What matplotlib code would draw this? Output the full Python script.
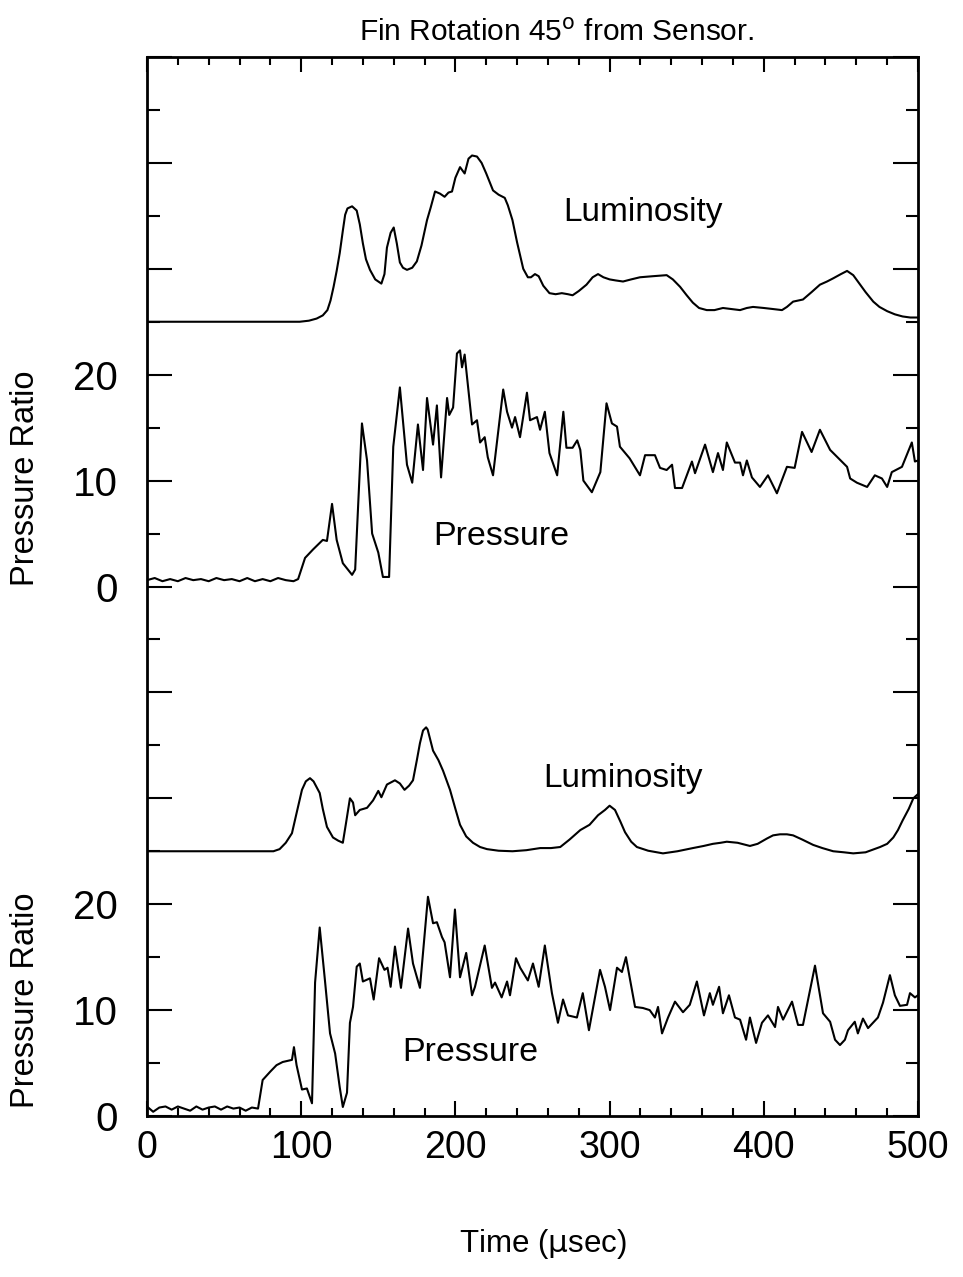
import matplotlib
matplotlib.use("Agg")
import matplotlib.pyplot as plt
import matplotlib.transforms as mtransforms
import numpy as np

plt.rcParams['font.family'] = ['Liberation Sans', 'DejaVu Sans']

# Upper record: luminosity (arbitrary units above its baseline) and pressure ratio
lum_top_t = [0, 99, 105, 110, 114, 117, 119, 121, 123, 125, 127, 128.5, 130, 133, 136, 138,
             140, 142, 144.6, 148, 152, 154, 155.6, 158, 160, 162, 164, 166, 168.6, 172, 175,
             178, 181.6, 184, 186.8, 190, 193, 195.5, 197.8, 200, 203, 206, 208.5, 210.8, 214,
             217, 220, 224.4, 228, 232, 234, 237, 240, 244, 247, 249, 251.6, 254, 257, 261,
             265, 269, 273, 276, 280, 285, 289, 292.5, 296, 300, 304, 308.7, 314, 319.7, 328,
             337, 341, 345.7, 350, 354, 358, 363, 368, 373.5, 379, 384.6, 389, 393, 400, 406,
             411.8, 415, 419, 425.4, 431, 436.4, 441, 445, 450, 454, 458, 461, 466, 471, 475,
             480, 485, 490, 495, 500]
lum_top_v = [0.0, 0.0, 0.1, 0.3, 0.6, 1.1, 2.0, 3.3, 4.8, 6.5, 8.6, 10.1, 10.7, 10.9, 10.5,
             9.2, 7.4, 5.9, 4.9, 4.0, 3.6, 4.5, 7.0, 8.4, 8.9, 7.4, 5.6, 5.1, 4.9, 5.1, 5.7,
             7.2, 9.6, 10.8, 12.3, 12.1, 11.8, 12.2, 12.3, 13.6, 14.6, 14.0, 15.4, 15.7, 15.6,
             15.0, 14.0, 12.4, 12.0, 11.7, 11.0, 9.6, 7.5, 5.0, 4.2, 4.2, 4.5, 4.3, 3.4, 2.7,
             2.6, 2.7, 2.6, 2.5, 2.9, 3.5, 4.2, 4.5, 4.2, 4.0, 3.9, 3.8, 4.0, 4.2, 4.3,
             4.4, 4.0, 3.3, 2.5, 1.8, 1.3, 1.1, 1.1, 1.3, 1.2, 1.1, 1.3, 1.4, 1.3, 1.2,
             1.1, 1.4, 1.9, 2.1, 2.8, 3.5, 3.8, 4.1, 4.5, 4.8, 4.4, 3.8, 2.8, 1.9, 1.4,
             1.0, 0.7, 0.5, 0.4, 0.4]

p_top_t = [0, 5, 10, 15, 20, 25, 30, 35, 40, 45, 50, 55, 60, 65, 70, 75, 80, 85, 90, 95,
           98, 102.5, 107.7, 114, 116.7, 120, 123, 127, 133, 135, 139.4, 142.7, 146, 150, 153,
           157, 159.7, 164, 168.6, 172, 175.7, 179, 181.6, 185.5, 188, 190.7, 194.6, 196,
           198.5, 201, 203, 204.3, 206, 210.8, 214, 216, 219, 221, 224.4, 231, 233.5, 236.7,
           238.7, 241.9, 246.4, 248.4, 252.9, 254.9, 258, 261, 266, 270, 272, 276, 279, 281,
           283, 288.5, 294, 298, 301.5, 304.8, 306.7, 313, 319.7, 323, 329.4, 332.7, 337,
           340.5, 342.4, 347, 353.4, 355.4, 361.9, 367, 370.3, 373.5, 376, 381.3, 384.6,
           386.5, 389, 392.3, 397.5, 402.7, 408.5, 415, 420, 424.8, 431, 436.4, 443, 454,
           456, 460.4, 467, 472, 476.6, 480, 483, 489.6, 496, 498, 500]
p_top_v = [0.6, 0.8, 0.5, 0.7, 0.5, 0.8, 0.6, 0.7, 0.5, 0.8, 0.6, 0.7, 0.5, 0.8, 0.5, 0.7,
           0.5, 0.8, 0.6, 0.5, 0.7, 2.7, 3.5, 4.4, 4.3, 7.8, 4.4, 2.2, 1.1, 1.6, 15.4, 11.9,
           5.0, 3.2, 0.9, 0.9, 13.2, 18.8, 11.5, 9.8, 15.3, 11.0, 17.8, 13.4, 17.1, 10.3,
           17.8, 16.2, 16.9, 22.0, 22.3, 20.7, 21.9, 15.3, 15.7, 13.6, 14.1, 12.2, 10.5, 18.6,
           16.5, 15.0, 16.0, 14.1, 18.3, 15.7, 16.0, 14.8, 16.5, 12.6, 10.5, 16.5, 13.1,
           13.1, 13.8, 12.9, 10.0, 8.9, 10.8, 17.3, 15.4, 15.1, 13.2, 12.1, 10.5, 12.4,
           12.4, 11.2, 11.0, 11.5, 9.3, 9.3, 11.8, 10.7, 13.4, 10.8, 12.6, 11.0, 13.6, 11.7,
           11.7, 10.5, 11.9, 10.3, 9.4, 10.5, 8.8, 11.3, 11.2, 14.6, 12.7, 14.8, 12.9, 11.3,
           10.2, 9.8, 9.4, 10.5, 10.2, 9.4, 10.8, 11.3, 13.6, 11.8, 11.9]

# Lower record
lum_bot_t = [0, 82, 86, 90, 94, 97, 100.5, 103, 105.7, 108, 112, 114, 116.7, 120.6, 124, 127,
             129, 131.6, 133.6, 135, 138, 142.7, 146.6, 150, 152, 155.6, 160.8, 164, 167, 170,
             172.5, 175, 177, 179, 181, 182, 185.5, 189, 192, 196.5, 200, 203, 207, 211.4, 216,
             220.5, 228, 237, 246, 255, 262, 268, 274, 281, 287, 292.5, 297, 300, 303.5, 307,
             310, 314, 317.7, 325, 334.6, 344, 354, 361, 367, 372, 376, 383, 391, 396, 402,
             406, 410.5, 415, 419, 425, 432, 438, 445, 452, 458, 466, 475.4, 480, 484, 487,
             490, 494, 497, 500]
lum_bot_v = [0.0, 0.0, 0.2, 0.8, 1.7, 3.6, 5.8, 6.6, 6.9, 6.6, 5.5, 4.0, 2.3, 1.3, 1.0, 0.8,
             2.6, 5.0, 4.6, 3.4, 3.9, 4.1, 4.8, 5.7, 5.1, 6.3, 6.7, 6.4, 5.8, 6.2,
             6.7, 8.6, 10.2, 11.4, 11.7, 11.5, 9.5, 8.6, 7.6, 5.8, 4.0, 2.5, 1.4, 0.8, 0.4,
             0.2, 0.05, 0.0, 0.1, 0.3, 0.3, 0.4, 1.1, 2.0, 2.5, 3.4, 3.9, 4.3, 3.9, 2.8,
             1.8, 0.9, 0.4, 0.05, -0.2, 0.0, 0.3, 0.5, 0.7, 0.8, 0.9, 0.8, 0.5, 0.7, 1.2,
             1.5, 1.6, 1.6, 1.5, 1.1, 0.6, 0.3, 0.0, -0.1, -0.2, -0.1, 0.4, 0.7,
             1.3, 2.0, 2.9, 4.0, 5.0, 5.4]

p_bot_t = [0, 4, 8, 12, 16, 20, 24, 28, 32, 36, 40, 44, 48, 52, 56, 60, 64, 68, 72, 75,
           80, 84, 88, 94, 95.3, 97, 100.5, 103.7, 107, 109, 112, 115.4, 118.7, 122, 125,
           127, 129.7, 131.6, 133.6, 136, 138, 140, 144.6, 147, 150.5, 154, 156, 158,
           160.8, 164.7, 169.3, 172.5, 177, 182.2, 185.5, 188, 191.3, 193, 196.5, 199.7,
           203, 207, 210.8, 212.7, 219, 223.7, 225.7, 230, 233.5, 235.4, 239.3, 242, 247,
           250.3, 254, 258, 262.6, 266.5, 269.8, 273, 278.8, 282.6, 286.6, 293.8, 297,
           300.3, 304.8, 308, 310.6, 316.5, 321.6, 326, 329.4, 331.4, 334, 337.9, 342.4,
           347.6, 352, 356.6, 361.2, 365, 367, 371, 373.5, 377.4, 381.3, 384.6, 388.5, 391,
           395, 398.8, 402.7, 407.3, 409.2, 412.5, 418.3, 422.2, 425.4, 433.2, 438.4, 443,
           446.2, 449.4, 452.6, 454.6, 459, 461, 464.3, 467.6, 474, 477.3, 481.8, 485,
           488.3, 492.9, 494.8, 498, 500]
p_bot_v = [0.9, 0.4, 0.8, 0.9, 0.6, 0.9, 0.7, 0.5, 0.9, 0.6, 0.8, 0.9, 0.6, 0.9, 0.7,
           0.8, 0.5, 0.8, 0.7, 3.4, 4.2, 4.8, 5.1, 5.3, 6.5, 4.8, 2.5, 2.6, 1.2, 12.6,
           17.8, 12.8, 7.8, 5.9, 2.7, 0.85, 2.2, 8.8, 10.3, 14.1, 14.4, 12.7, 13.0, 11.0,
           14.9, 13.8, 14.0, 12.2, 16.0, 12.1, 17.7, 14.4, 12.1, 20.7, 18.2, 18.3, 16.9,
           16.4, 13.1, 19.5, 13.1, 15.4, 11.4, 12.2, 16.1, 12.1, 12.6, 11.2, 12.7, 11.4,
           14.9, 14.0, 12.8, 14.4, 12.2, 16.1, 11.6, 8.8, 11.0, 9.5, 9.3, 11.6, 8.1, 13.8,
           12.2, 10.0, 14.0, 13.6, 15.0, 10.3, 10.2, 10.0, 9.3, 10.3, 7.8, 9.3, 10.8, 9.8,
           10.5, 12.7, 9.5, 11.6, 10.5, 12.2, 9.7, 11.4, 9.3, 9.1, 7.2, 9.3, 6.9, 8.8, 9.5,
           8.4, 10.3, 9.1, 10.8, 8.6, 8.6, 14.2, 9.7, 8.9, 7.2, 6.7, 7.2, 8.1, 8.9, 7.8,
           9.2, 8.3, 9.3, 10.7, 13.3, 11.4, 10.4, 10.5, 11.6, 11.2, 11.4]

pressure_ticks = [0, 10, 20]

# vertical offsets of each trace on the shared axis
off_lum_top, off_p_top, off_lum_bot, off_p_bot = 75, 50, 25, 0

fig = plt.figure(figsize=(9.63, 12.77), dpi=100)
ax = fig.add_axes([147 / 963, 1 - 1116 / 1277, 771 / 963, 1059 / 1277])

kw = dict(color='black', lw=1.5)
ax.plot(lum_top_t, np.array(lum_top_v) + off_lum_top, **kw)
ax.plot(p_top_t, np.array(p_top_v) + off_p_top, **kw)
ax.plot(lum_bot_t, np.array(lum_bot_v) + off_lum_bot, **kw)
ax.plot(p_bot_t, np.array(p_bot_v) + off_p_bot, **kw)

ax.set_xlim(0, 500)
ax.set_ylim(0, 100)

ax.set_xticks(np.arange(0, 501, 100))
ax.set_xticks(np.arange(0, 501, 20), minor=True)

# y labels only on the two pressure scales
yt = np.arange(0, 101, 10)
ylabels = []
for v in yt:
    if v - off_p_top in pressure_ticks:
        ylabels.append(str(int(v - off_p_top)))
    elif v - off_p_bot in pressure_ticks:
        ylabels.append(str(int(v - off_p_bot)))
    else:
        ylabels.append('')
ax.set_yticks(yt)
ax.set_yticklabels(ylabels)
ax.set_yticks(np.arange(5, 100, 10), minor=True)

ax.tick_params(which='both', direction='in', top=True, right=True, width=1.5)
ax.tick_params(axis='x', which='major', length=11, pad=10, labelsize=27)
ax.tick_params(axis='x', which='minor', length=6)
ax.tick_params(axis='y', which='major', length=18, pad=21, labelsize=29)
ax.tick_params(axis='y', which='minor', length=9)
for s in ax.spines.values():
    s.set_linewidth(2)

fig.text(557 / 963, 1 - 33 / 1277, r'Fin Rotation 45$^{\mathrm{o}}$ from Sensor.',
         ha='center', va='center', fontsize=21.5)
fig.text(543 / 963, 1 - 1244 / 1277, r'Time ($\mathrm{\mu}$sec)',
         ha='center', va='center', fontsize=22.5)

trans = mtransforms.blended_transform_factory(fig.transFigure, ax.transData)
ax.text(25 / 963, 60.2, 'Pressure Ratio', transform=trans, rotation=90,
        ha='center', va='center', fontsize=23.5)
ax.text(25 / 963, 10.9, 'Pressure Ratio', transform=trans, rotation=90,
        ha='center', va='center', fontsize=23.5)

ax.text(321.7, 85.3, 'Luminosity', ha='center', va='center', fontsize=24)
ax.text(230, 54.7, 'Pressure', ha='center', va='center', fontsize=24.5)
ax.text(309, 31.9, 'Luminosity', ha='center', va='center', fontsize=24)
ax.text(209.5, 5.95, 'Pressure', ha='center', va='center', fontsize=24.5)

fig.savefig('out.png', dpi=100)
